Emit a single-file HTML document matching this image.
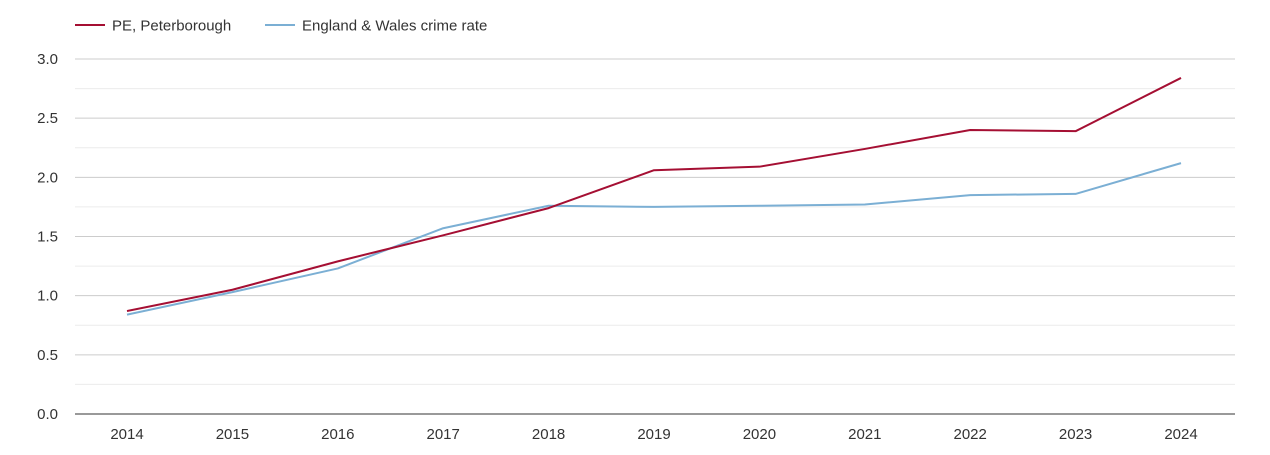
<!DOCTYPE html>
<html><head><meta charset="utf-8"><style>
body{margin:0;background:#fff;font-family:"Liberation Sans",Arial,sans-serif}
svg text{font-family:"Liberation Sans",Arial,sans-serif;font-size:15px;fill:#333}
</style></head><body>
<svg id="chart" width="1270" height="450" xmlns="http://www.w3.org/2000/svg">
<g id="legend">
<g><line x1="75" y1="25" x2="105" y2="25" stroke="#a50f33" stroke-width="2"/><text x="112" y="30.5">PE, Peterborough</text></g>
<g><line x1="265" y1="25" x2="295" y2="25" stroke="#7bafd4" stroke-width="2"/><text x="302" y="30.5">England &amp; Wales crime rate</text></g>
</g>
<g id="grid"></g>
<g id="yaxis"></g>
<g id="xaxis"></g>
<g id="series"></g>
</svg>
<script>
const years=[2014,2015,2016,2017,2018,2019,2020,2021,2022,2023,2024];
const peValues=[0.87,1.05,1.29,1.51,1.74,2.06,2.09,2.24,2.40,2.39,2.84];
const ewValues=[0.84,1.03,1.23,1.57,1.76,1.75,1.76,1.77,1.85,1.86,2.12];
const yTicks=[0,0.5,1.0,1.5,2.0,2.5,3.0];
const yMinorTicks=[0.25,0.75,1.25,1.75,2.25,2.75];
const NS="http://www.w3.org/2000/svg";
const y=v=>414-v*(355/3);
const x=i=>127+i*105.4;
function mk(tag,attrs,parent){const e=document.createElementNS(NS,tag);for(const k in attrs)e.setAttribute(k,attrs[k]);parent.appendChild(e);return e;}
const grid=document.getElementById('grid'),ya=document.getElementById('yaxis'),xa=document.getElementById('xaxis'),se=document.getElementById('series');
yMinorTicks.forEach(v=>{const l=mk('line',{x1:75,x2:1235,y1:y(v),y2:y(v),stroke:'#ececec','stroke-width':1},grid);

});
yTicks.forEach(v=>{const l=mk('line',{x1:75,x2:1235,y1:y(v),y2:y(v),stroke:v===0?'#333':'#ccc','stroke-width':1},grid);


const t=mk('text',{x:58,y:y(v)+5,'text-anchor':'end'},ya);t.textContent=v.toFixed(1);

});
years.forEach((yr,i)=>{const t=mk('text',{x:x(i),y:439,'text-anchor':'middle'},xa);t.textContent=yr;

});
function line(vals,color,name){const p=mk('polyline',{points:vals.map((v,i)=>x(i)+','+y(v)).join(' '),fill:'none',stroke:color,'stroke-width':2,'stroke-linejoin':'round'},se);

}
line(ewValues,'#7bafd4','england-wales-line');
line(peValues,'#a50f33','peterborough-line');
</script>
</body></html>
